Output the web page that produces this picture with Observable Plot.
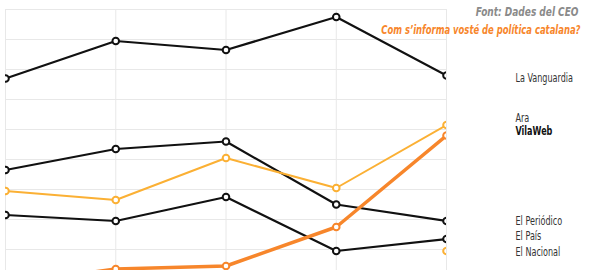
<!DOCTYPE html>
<html>
<head>
<meta charset="utf-8">
<script src="https://cdn.jsdelivr.net/npm/d3@7"></script>
<script src="https://cdn.jsdelivr.net/npm/@observablehq/plot@0.6"></script>
<style>
  html, body { margin: 0; padding: 0; background: #fff; }
  #chart svg { display: block; }
</style>
</head>
<body>
<div id="chart"></div>
<script>
// Survey waves (x positions are wave indices)
const waves = [0, 1, 2, 3, 4];

// Series values (share of respondents)
const laVanguardia = [15.4, 17.9, 17.3, 19.5, 15.6];
const ara          = [7.9, 7.3, 10.1, 8.1, 12.3];
const vilaWeb      = [1.7, 2.7, 2.9, 5.5, 11.6];
const elPeriodico  = [9.3, 10.7, 11.2, 7.0, 5.9];
const elPais       = [6.3, 5.9, 7.5, 3.9, 4.7];
const elNacional   = [null, null, null, null, 3.9];

// Right-hand labels and the value where each one sits
const labelNames  = ["La Vanguardia", "Ara", "VilaWeb", "El Periódico", "El País", "El Nacional"];
const labelValues = [15.4, 12.75, 11.9, 5.9, 4.85, 3.8];
const labelBold   = [false, false, true, false, false, false];

const source = "Font: Dades del CEO";
const title  = "Com s\u2019informa vosté de política catalana?";

const gridValues = [4, 6, 8, 10, 12, 14, 16, 18, 20];

const toRows = (name, vals) => waves.map((w, i) => ({series: name, wave: w, value: vals[i]})).filter(d => d.value != null);

const black = "#111111";
const yellow = "#fbb034";
const orange = "#f7862b";

const series = [
  {rows: toRows("La Vanguardia", laVanguardia), color: black, sw: 2.2},
  {rows: toRows("El Periódico", elPeriodico), color: black, sw: 2.2},
  {rows: toRows("El País", elPais), color: black, sw: 2.2},
  {rows: toRows("Ara", ara), color: yellow, sw: 2},
  {rows: toRows("VilaWeb", vilaWeb), color: orange, sw: 3.5},
  {rows: toRows("El Nacional", elNacional), color: yellow, sw: 2}
];

const labels = labelNames.map((n, i) => ({name: n, value: labelValues[i], bold: labelBold[i]}));

const font = "'DejaVu Sans Condensed', 'DejaVu Sans', sans-serif";

const marks = [
  Plot.gridY(gridValues, {stroke: "#e8e8e8", strokeOpacity: 1, strokeWidth: 1}),
  Plot.gridX(waves, {stroke: "#e8e8e8", strokeOpacity: 1, strokeWidth: 1})
];
for (const s of series) {
  marks.push(Plot.line(s.rows, {x: "wave", y: "value", stroke: s.color, strokeWidth: s.sw, clip: true}));
}
for (const s of series) {
  marks.push(Plot.dot(s.rows, {x: "wave", y: "value", stroke: s.color, fill: "white", r: 3.3, strokeWidth: 2, clip: true}));
}
marks.push(
  Plot.text(labels.filter(d => !d.bold), {x: () => 4, y: "value", text: "name", dx: 69, textAnchor: "start", fill: "#333", fontSize: 11.5, fontFamily: font}),
  Plot.text(labels.filter(d => d.bold), {x: () => 4, y: "value", text: "name", dx: 69, textAnchor: "start", fill: "#111", fontSize: 11.5, fontWeight: "bold", fontFamily: font}),
  Plot.text([source], {text: d => d, frameAnchor: "top-right", dx: 132, dy: -2, textAnchor: "end", fill: "#8a8a8a", fontSize: 12.5, fontWeight: "bold", fontStyle: "italic", fontFamily: font}),
  Plot.text([title], {text: d => d, frameAnchor: "top-right", dx: 134, dy: 16, textAnchor: "end", fill: "#f7862b", fontSize: 12.5, fontWeight: "bold", fontStyle: "italic", fontFamily: font})
);

const chart = Plot.plot({
  width: 604,
  height: 270,
  marginLeft: 5,
  marginRight: 158,
  marginTop: 9,
  marginBottom: 0,
  x: {domain: [0, 4], range: [5, 446], axis: null},
  y: {domain: [0, 20], range: [309, 9], axis: null},
  style: {background: "white", fontFamily: font},
  marks
});
document.getElementById("chart").appendChild(chart);

// Condense the text horizontally to mimic the narrow typeface of the original
const squeeze = new Map([[source, 0.8], [title, 0.75]]);
d3.select(chart).selectAll("text").each(function () {
  const ratio = squeeze.get(this.textContent) ?? 0.78;
  const len = this.getComputedTextLength();
  this.setAttribute("textLength", (len * ratio).toFixed(1));
  this.setAttribute("lengthAdjust", "spacingAndGlyphs");
});
</script>
</body>
</html>
